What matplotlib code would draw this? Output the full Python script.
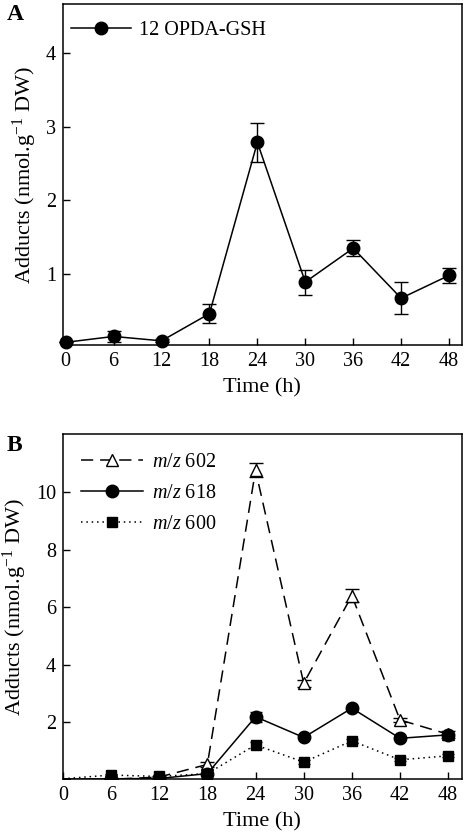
import numpy as np
import matplotlib
matplotlib.use("Agg")
import matplotlib.pyplot as plt
from matplotlib.lines import Line2D

plt.rcParams['font.family'] = ['Liberation Serif', 'DejaVu Serif']
plt.rcParams['mathtext.fontset'] = 'custom'
plt.rcParams['mathtext.rm'] = 'Liberation Serif'
plt.rcParams['mathtext.it'] = 'Liberation Serif:italic'

# Datos
time_h = [0, 6, 12, 18, 24, 30, 36, 42, 48]

opda_gsh = [0.07, 0.15, 0.09, 0.46, 2.79, 0.89, 1.35, 0.67, 0.98]
opda_gsh_err = [0.0, 0.08, 0.02, 0.13, 0.27, 0.17, 0.11, 0.22, 0.10]

mz602 = [0.0, 0.0, 0.08, 0.52, 10.77, 3.35, 6.40, 2.07, 1.57]
mz602_err = [0.0, 0.0, 0.02, 0.10, 0.25, 0.12, 0.22, 0.08, 0.12]
mz618 = [0.0, 0.02, 0.03, 0.20, 2.18, 1.46, 2.48, 1.43, 1.55]
mz618_err = [0.0, 0.0, 0.0, 0.05, 0.17, 0.05, 0.08, 0.05, 0.05]
mz600 = [0.02, 0.15, 0.10, 0.20, 1.20, 0.60, 1.34, 0.68, 0.82]
mz600_err = [0.0, 0.02, 0.02, 0.03, 0.10, 0.08, 0.08, 0.05, 0.05]

fig = plt.figure(figsize=(4.66, 8.38), dpi=100)
axA = fig.add_axes([0.135, 0.588, 0.856, 0.407])
axB = fig.add_axes([0.135, 0.070, 0.856, 0.412])

lw = 1.1
fs = 14.5
dash = (0, (8, 4.5))
dots = (0, (1, 2.5))

def style(ax):
    ax.tick_params(direction='in', length=5, width=1, labelsize=fs, top=False, right=False, pad=5)
    for s in ax.spines.values():
        s.set_linewidth(1.1)
    ax.set_xticks(time_h)
    ax.set_xlabel("Time (h)", fontsize=16, labelpad=5)
    ax.set_ylabel("Adducts (nmol.g$^{-1}$ DW)", fontsize=16, labelpad=5)

# Panel A
axA.errorbar(time_h, opda_gsh, yerr=opda_gsh_err, color='black', marker='o', markersize=9,
             linewidth=lw, capsize=5, elinewidth=1, capthick=1, clip_on=False, zorder=3)
axA.set_xlim(-0.35, 49.6)
axA.set_ylim(0.03, 4.67)
axA.set_yticks([1, 2, 3, 4])
style(axA)
hA = [Line2D([], [], color='black', marker='o', markersize=9, linewidth=lw)]
axA.legend(hA, ["12 OPDA-GSH"], loc='upper left', frameon=False, fontsize=fs, handlelength=3.0,
           handletextpad=0.4, borderaxespad=0.0, bbox_to_anchor=(0.0, 0.975))
fig.text(0.015, 0.983, "A", fontsize=17, fontweight='bold', va='center')

# Panel B
axB.errorbar(time_h, mz602, yerr=mz602_err, color='black', marker='^', markersize=9,
             markerfacecolor='white', linestyle=dash, linewidth=lw, capsize=5,
             elinewidth=1, capthick=1, markevery=list(range(1, 9)), zorder=3)
axB.errorbar(time_h, mz618, yerr=mz618_err, color='black', marker='o', markersize=9,
             linewidth=lw, capsize=4, elinewidth=1, capthick=1,
             markevery=list(range(1, 9)), zorder=4)
axB.errorbar(time_h, mz600, yerr=mz600_err, color='black', marker='s', markersize=7,
             linestyle=dots, linewidth=lw, capsize=4, elinewidth=1, capthick=1,
             markevery=list(range(1, 9)), zorder=5)
axB.set_xlim(0, 49.7)
axB.set_ylim(0, 12.03)
axB.set_yticks([2, 4, 6, 8, 10])
style(axB)
hB = [Line2D([], [], color='black', marker='^', markersize=9, markerfacecolor='white',
             linestyle=dash, linewidth=lw),
      Line2D([], [], color='black', marker='o', markersize=9, linewidth=lw),
      Line2D([], [], color='black', marker='s', markersize=7, linestyle=dots, linewidth=lw)]
axB.legend(hB, ["$m/z$ 602", "$m/z$ 618", "$m/z$ 600"], loc='upper left', frameon=False,
           fontsize=fs, handlelength=3.1, handletextpad=0.45, borderaxespad=0.0,
           labelspacing=0.6, bbox_to_anchor=(0.025, 0.97))
fig.text(0.015, 0.468, "B", fontsize=17, fontweight='bold', va='center')

fig.savefig("out.png", dpi=100)
